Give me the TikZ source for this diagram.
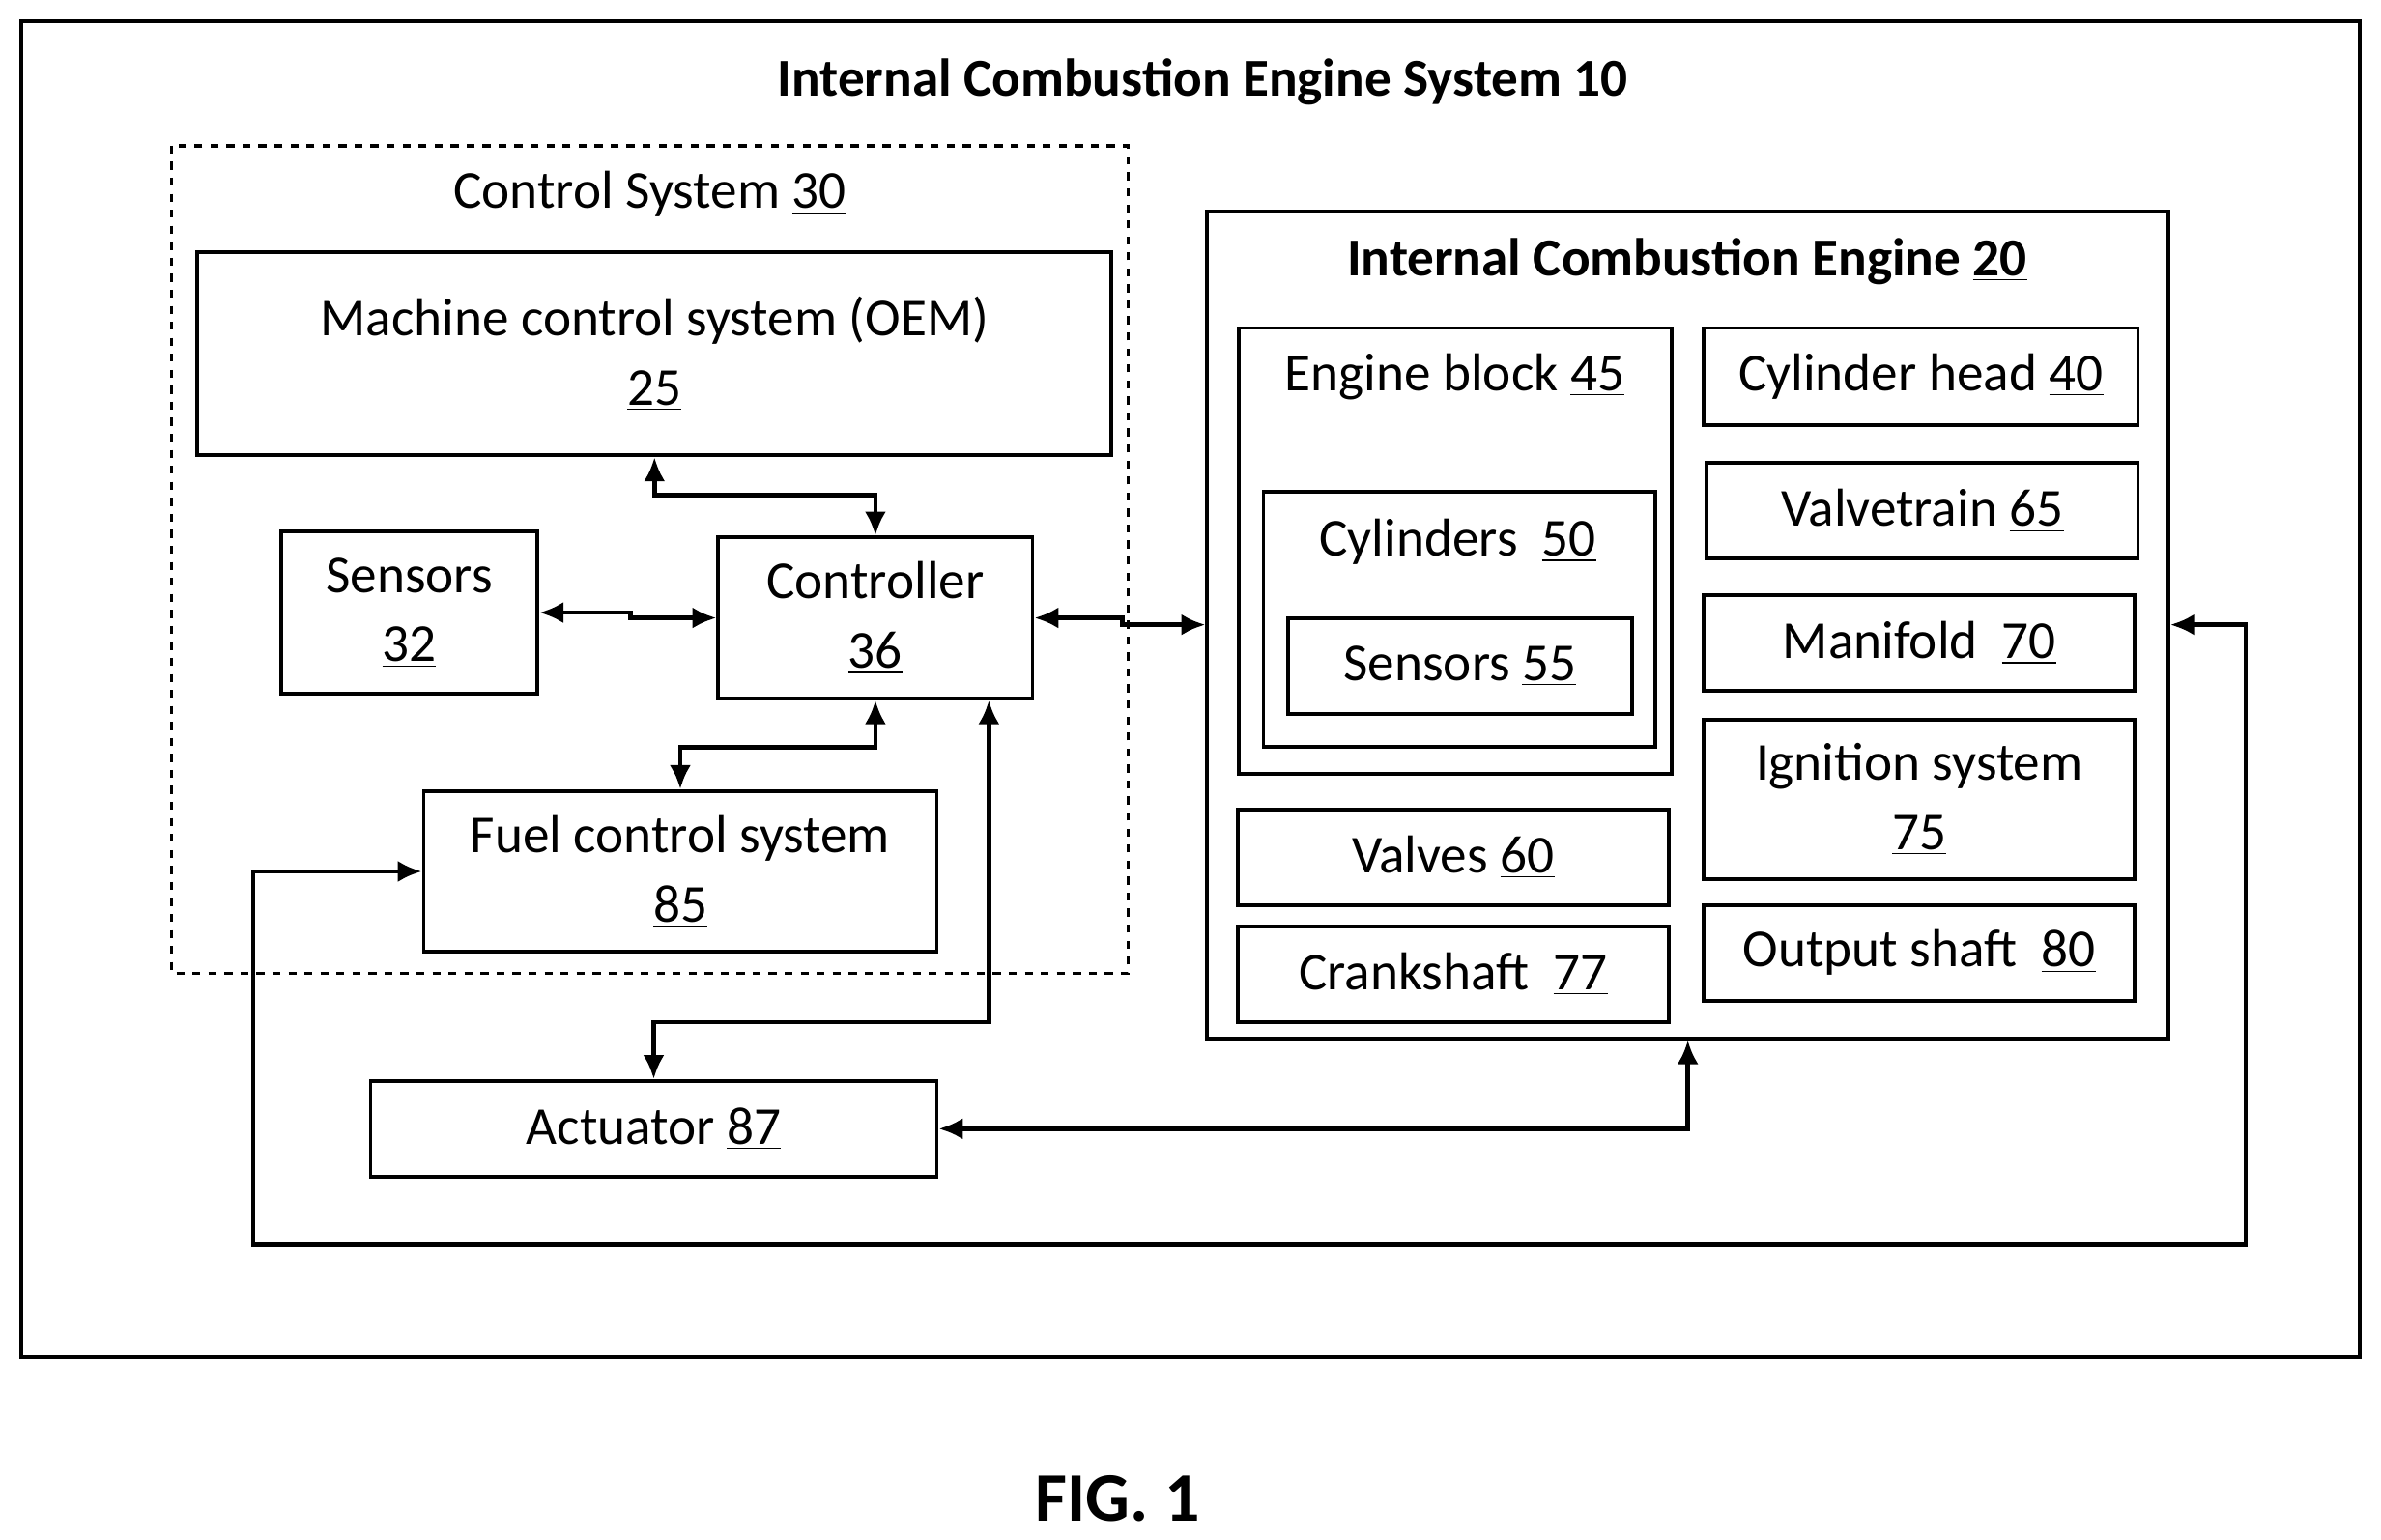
\documentclass[tikz,border=0pt]{standalone}
\usepackage{fontspec}
\setmainfont{Carlito}
\usetikzlibrary{arrows.meta}
\newcommand{\nm}[1]{\underline{#1}}
\tikzset{
  box/.style = {draw=black, line width=1.4pt, align=center, inner sep=0pt, font=\fontsize{20}{26}\selectfont},
  lbl/.style = {align=center, inner sep=0pt, font=\fontsize{20}{26}\selectfont},
  ttl/.style = {lbl, font=\fontsize{20}{26}\selectfont\bfseries},
  link/.style = {line width=1.6pt, {Latex[length=9pt,width=8pt]}-{Latex[length=9pt,width=8pt]}},
}
\begin{document}
\begin{tikzpicture}[x=0.02cm,y=-0.02cm]
\useasboundingbox (0,0) rectangle (1568,1014);
% frames
\draw[line width=1.6pt] (14,14) rectangle (1554,894);
\node[ttl] (systitle) at (792,54) {Internal Combustion Engine System 10};
\draw[line width=1.2pt, dashed] (113,96) rectangle (743,641);
\node[lbl] (ctltitle) at (428,128) {Control System \nm{30}};
% control side
\node[box, minimum width=12.04cm, minimum height=2.68cm] (mcs) at (431,233) {Machine control system (OEM)\\\nm{25}};
\node[box, minimum width=3.38cm, minimum height=2.14cm] (sen) at (269.5,403.5) {Sensors\\\nm{32}};
\node[box, minimum width=4.14cm, minimum height=2.12cm] (ctl) at (576.5,407) {Controller\\\nm{36}};
\node[box, minimum width=6.76cm, minimum height=2.12cm] (fuel) at (448,574) {Fuel control system\\\nm{85}};
\node[box, minimum width=7.46cm, minimum height=1.26cm] (act) at (430.5,743.5) {Actuator \nm{87}};
% engine
\node[box, minimum width=12.66cm, minimum height=10.9cm] (ice) at (1111.5,411.5) {};
\node[ttl] (icetitle) at (1111,172) {Internal Combustion Engine \nm{20}};
\node[box, minimum width=5.7cm, minimum height=5.88cm] (blk) at (958.5,363) {};
\node[lbl] (blktitle) at (958,248) {Engine block \nm{45}};
\node[box, minimum width=5.16cm, minimum height=3.36cm] (cyl) at (961,408) {};
\node[lbl] (cyltitle) at (960,357) {Cylinders \ \nm{50}};
\node[box, minimum width=4.54cm, minimum height=1.26cm] (sen55) at (961.5,438.5) {Sensors \nm{55}};
\node[box, minimum width=5.68cm, minimum height=1.26cm] (val) at (957,564.5) {Valves \nm{60}};
\node[box, minimum width=5.68cm, minimum height=1.26cm] (crk) at (957,641.5) {Crankshaft \ \nm{77}};
\node[box, minimum width=5.72cm, minimum height=1.28cm] (chd) at (1265,248) {Cylinder head \nm{40}};
\node[box, minimum width=5.68cm, minimum height=1.26cm] (vtr) at (1266,336.5) {Valvetrain \nm{65}};
\node[box, minimum width=5.68cm, minimum height=1.26cm] (man) at (1264,423.5) {Manifold \ \nm{70}};
\node[box, minimum width=5.68cm, minimum height=2.1cm] (ign) at (1264,526.5) {Ignition system\\\nm{75}};
\node[box, minimum width=5.68cm, minimum height=1.26cm] (out) at (1264,627.5) {Output shaft \ \nm{80}};
% connectors
\draw[link] (mcs.south) -- ++(0,25) -| (ctl.north);
\draw[link] (sen.east) -- ++(60,0) |- (ctl.west);
\draw[link] (ctl.east) -- ++(58,0) |- (ice.west);
\draw[link] (ctl.south) -- ++(0,31) -| (fuel.north);
\draw[link] ([xshift=-0.6cm]ctl.south east) -- ++(0,212) -| (act.north);
\draw[link] (act.east) -| (ice.south);
\draw[link] (fuel.west) -- ++(-111,0) |- ++(1312,246) |- (ice.east);
\node[lbl, font=\fontsize{26}{30}\selectfont\bfseries] (fig) at (736,987) {FIG. 1};
\end{tikzpicture}
\end{document}
